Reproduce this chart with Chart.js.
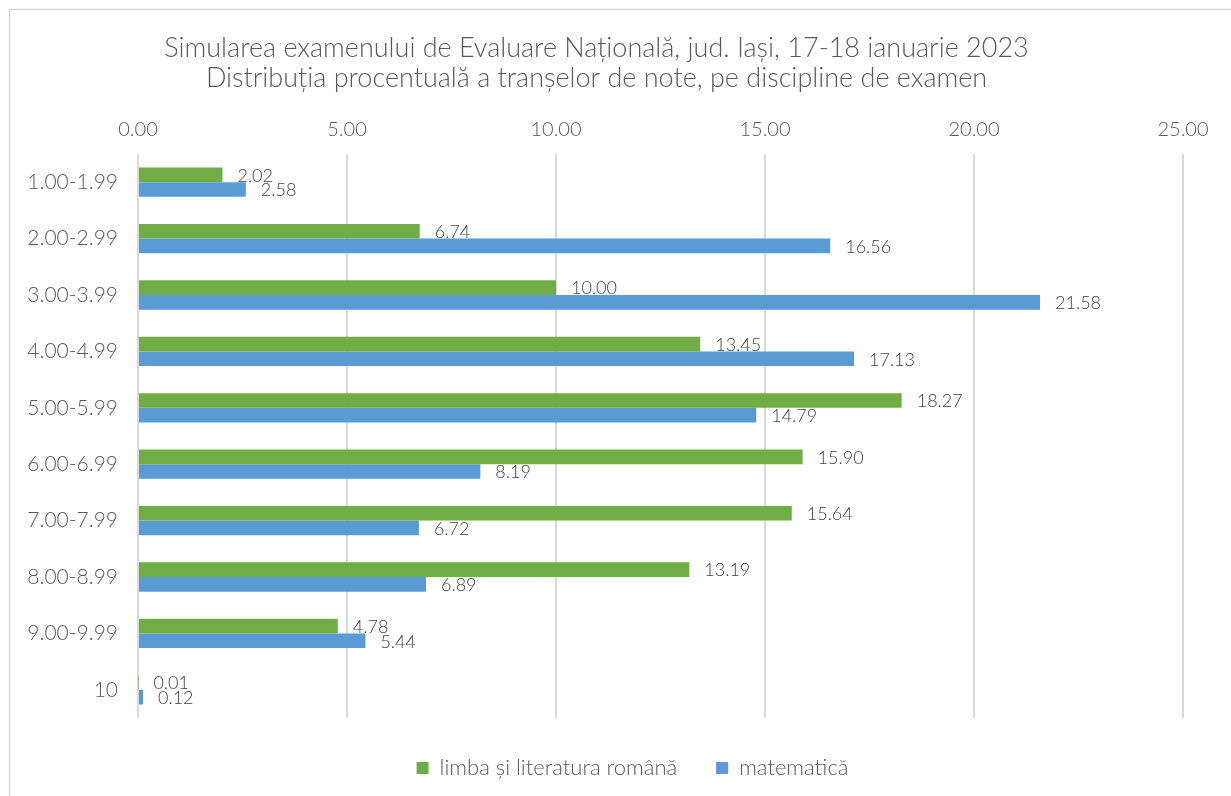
<!DOCTYPE html>
<html><head><meta charset="utf-8">
<script src="https://cdn.jsdelivr.net/npm/chart.js@4"></script>
<style>html,body{margin:0;padding:0;background:#fff;overflow:hidden}#wrap{position:relative;width:1231px;height:796px}</style>
</head><body><div id="wrap"><canvas id="c" width="1231" height="796"></canvas></div>
<script>
const titleLines = ["Simularea examenului de Evaluare Națională, jud. Iași, 17-18 ianuarie 2023", "Distribuția procentuală a tranșelor de note, pe discipline de examen"];
const categories = ["1.00-1.99","2.00-2.99","3.00-3.99","4.00-4.99","5.00-5.99","6.00-6.99","7.00-7.99","8.00-8.99","9.00-9.99","10"];
const seriesNames = ["limba și literatura română","matematică"];
const limbaRomana = [2.02, 6.74, 10.00, 13.45, 18.27, 15.90, 15.64, 13.19, 4.78, 0.01];
const matematica = [2.58, 16.56, 21.58, 17.13, 14.79, 8.19, 6.72, 6.89, 5.44, 0.12];
const xTicks = [0, 5, 10, 15, 20, 25];

const FONT = "Lato, 'Open Sans', sans-serif";
const TXT = "#595959";

const frame = {
  id: 'frame',
  beforeDraw(chart) {
    const c = chart.ctx;
    c.save();
    c.fillStyle = '#fff';
    c.fillRect(0, 0, chart.width, chart.height);
    c.strokeStyle = '#d9d9d9';
    c.lineWidth = 1.5;
    c.strokeRect(9.5, 9.5, 1400, 1000);
    c.restore();
  }
};

const legendShift = {
  id: 'legendShift',
  afterLayout(chart) {
    const lg = chart.legend;
    if (lg) { lg.left += 36; lg.right += 36; }
  }
};

const valueLabels = {
  id: 'valueLabels',
  afterDatasetsDraw(chart) {
    const c = chart.ctx;
    c.save();
    c.font = "300 18px " + FONT;
    c.fillStyle = "#404040";
    c.textAlign = 'left';
    c.textBaseline = 'middle';
    chart.data.datasets.forEach((ds, i) => {
      const meta = chart.getDatasetMeta(i);
      meta.data.forEach((el, j) => {
        c.fillText(ds.data[j].toFixed(2), el.x + 15, el.y + 1);
      });
    });
    c.restore();
  }
};

new Chart(document.getElementById('c'), {
  type: 'bar',
  data: {
    labels: categories,
    datasets: [
      { label: seriesNames[0], data: limbaRomana, backgroundColor: '#70AD47', borderWidth: 0 },
      { label: seriesNames[1], data: matematica, backgroundColor: '#5B9BD5', borderWidth: 0 }
    ]
  },
  options: {
    indexAxis: 'y',
    responsive: false,
    animation: false,
    devicePixelRatio: 1,
    layout: { padding: { left: 10, right: 48, top: 23, bottom: 7 } },
    datasets: { bar: { categoryPercentage: 0.52, barPercentage: 1.0 } },
    scales: {
      x: {
        position: 'top',
        min: 0, max: 25,
        afterBuildTicks(scale) { scale.ticks = xTicks.map(v => ({ value: v })); },
        ticks: { callback: v => Number(v).toFixed(2), font: { family: FONT, size: 20, weight: '300' }, color: TXT, padding: 12 },
        grid: { color: '#d9d9d9', lineWidth: 2, drawTicks: false },
        border: { display: false }
      },
      y: {
        afterFit(scale) { scale.width = 128; },
        ticks: { font: { family: FONT, size: 21, weight: '300' }, color: TXT, padding: 20 },
        grid: { display: false, drawTicks: false },
        border: { display: false }
      }
    },
    plugins: {
      title: {
        display: true,
        text: titleLines,
        font: { family: FONT, size: 27, weight: '300', lineHeight: 1.111 },
        color: TXT,
        padding: { top: 10, bottom: 13 }
      },
      legend: {
        position: 'bottom',
        labels: { boxWidth: 12, boxHeight: 12, font: { family: FONT, size: 22, weight: '300' }, color: TXT, padding: 39 }
      },
      tooltip: { enabled: false }
    }
  },
  plugins: [frame, legendShift, valueLabels]
});
</script>
</body></html>
